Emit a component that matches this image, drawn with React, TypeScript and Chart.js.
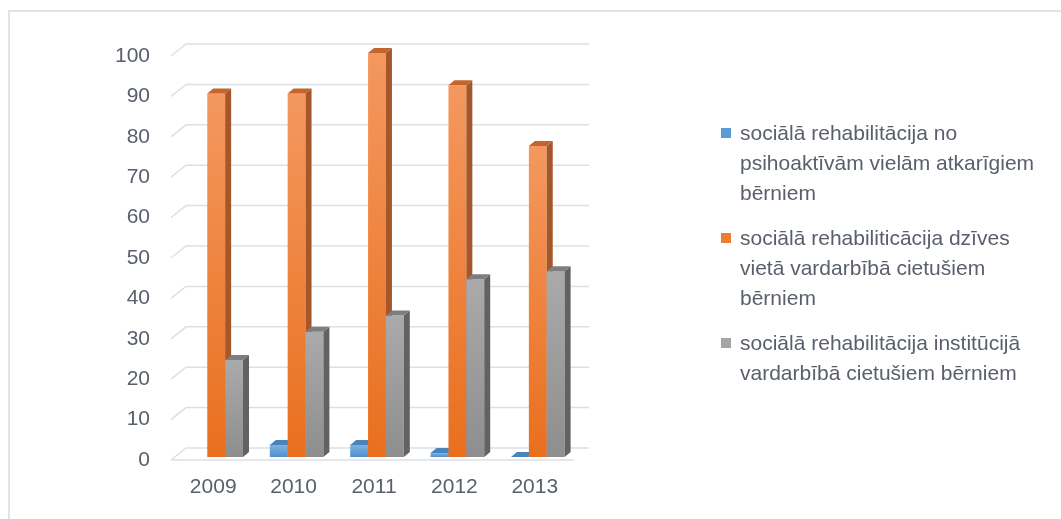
import React, { useEffect, useRef } from 'react';
import { Chart, registerables } from 'chart.js';

Chart.register(...registerables);

const years = ['2009', '2010', '2011', '2012', '2013'];
const seriesNames = [
  'sociālā rehabilitācija no psihoaktīvām vielām atkarīgiem bērniem',
  'sociālā rehabiliticācija dzīves vietā vardarbībā cietušiem bērniem',
  'sociālā rehabilitācija institūcijā vardarbībā cietušiem bērniem',
];
const legendLines = [
  ['sociālā rehabilitācija no', 'psihoaktīvām vielām atkarīgiem', 'bērniem'],
  ['sociālā rehabiliticācija dzīves', 'vietā vardarbībā cietušiem', 'bērniem'],
  ['sociālā rehabilitācija institūcijā', 'vardarbībā cietušiem bērniem'],
];
const blueValues: (number | null)[] = [null, 3, 3, 1, 0];
const orangeValues = [90, 90, 100, 92, 77];
const grayValues = [24, 31, 35, 44, 46];
const yTicks = [0, 10, 20, 30, 40, 50, 60, 70, 80, 90, 100];

const textColor = '#59606c';
const legendColors = ['#5B9BD5', '#ED7D31', '#A5A5A5'];
const faceStyles = [
  { top: '#7fb3e3', bottom: '#4f8fcb', side: '#3b6e9e', cap: '#4a84bd' },
  { top: '#F4985F', bottom: '#E96F1E', side: '#A3572A', cap: '#C4652E' },
  { top: '#AAAAAA', bottom: '#8E8E8E', side: '#626262', cap: '#7E7E7E' },
];

const DX = 6;
const DY = 5;

const bars3d = {
  id: 'bars3d',
  beforeDatasetsDraw(chart: any) {
    const { ctx, chartArea: a, scales } = chart;
    const y = scales.y;
    ctx.save();
    ctx.strokeStyle = '#dce0e6';
    ctx.lineWidth = 1.5;
    for (const v of yTicks) {
      const py = y.getPixelForValue(v);
      ctx.beginPath();
      ctx.moveTo(a.left - 5, py + 3);
      ctx.lineTo(a.left + 10, py - 9);
      ctx.lineTo(a.right + 11, py - 9);
      if (v === 0) {
        ctx.moveTo(a.left - 5, py + 3);
        ctx.lineTo(a.right - 4, py + 3);
      }
      ctx.stroke();
    }
    ctx.restore();
  },
  afterDatasetsDraw(chart: any) {
    const { ctx } = chart;
    ctx.save();
    for (let i = 0; i < years.length; i++) {
      chart.data.datasets.forEach((ds: any, d: number) => {
        const v = ds.data[i];
        if (v === null || v === undefined) return;
        const el = chart.getDatasetMeta(d).data[i];
        if (!el) return;
        const { x, y, base, width } = el.getProps(['x', 'y', 'base', 'width'], true);
        const st = faceStyles[d];
        const l = x - width / 2;
        const r = x + width / 2;
        const t = Math.min(y, base);
        const b = Math.max(y, base);
        if (b - t > 0.5) {
          const g = ctx.createLinearGradient(0, t, 0, b);
          g.addColorStop(0, st.top);
          g.addColorStop(1, st.bottom);
          ctx.fillStyle = g;
          ctx.fillRect(l, t, r - l, b - t);
          ctx.fillStyle = st.side;
          ctx.beginPath();
          ctx.moveTo(r, t);
          ctx.lineTo(r + DX, t - DY);
          ctx.lineTo(r + DX, b - DY);
          ctx.lineTo(r, b);
          ctx.closePath();
          ctx.fill();
        }
        ctx.fillStyle = st.cap;
        ctx.beginPath();
        ctx.moveTo(l, t);
        ctx.lineTo(l + DX, t - DY);
        ctx.lineTo(r + DX, t - DY);
        ctx.lineTo(r, t);
        ctx.closePath();
        ctx.fill();
      });
    }
    ctx.restore();
  },
};

export default function App() {
  const ref = useRef<HTMLCanvasElement | null>(null);

  useEffect(() => {
    if (!ref.current) return;
    const chart = new Chart(ref.current, {
      type: 'bar',
      data: {
        labels: years,
        datasets: [
          { label: seriesNames[0], data: blueValues, backgroundColor: 'rgba(0,0,0,0)', borderWidth: 0 },
          { label: seriesNames[1], data: orangeValues, backgroundColor: 'rgba(0,0,0,0)', borderWidth: 0 },
          { label: seriesNames[2], data: grayValues, backgroundColor: 'rgba(0,0,0,0)', borderWidth: 0 },
        ],
      },
      options: {
        responsive: false,
        animation: false,
        events: [],
        layout: { padding: { left: 100, right: 483, top: 53, bottom: 0 } },
        datasets: { bar: { categoryPercentage: 0.667, barPercentage: 1.0 } },
        plugins: {
          legend: { display: false },
          tooltip: { enabled: false },
          title: { display: false },
        },
        scales: {
          x: {
            grid: { display: false, drawTicks: false },
            border: { display: false },
            ticks: {
              color: textColor,
              font: { family: 'Liberation Sans', size: 21 },
              padding: 18,
              labelOffset: -3,
              maxRotation: 0,
            },
            afterFit: (s: any) => {
              s.height = 62;
            },
          },
          y: {
            min: 0,
            max: 100,
            grid: { display: false, drawTicks: false },
            border: { display: false },
            ticks: {
              stepSize: 10,
              color: textColor,
              font: { family: 'Liberation Sans', size: 21 },
              padding: 26,
              labelOffset: 3,
            },
            afterFit: (s: any) => {
              s.width = 76;
            },
          },
        },
      },
      plugins: [bars3d],
    });
    return () => chart.destroy();
  }, []);

  return (
    <div style={{ position: 'fixed', left: 0, top: 0, width: 1061, height: 519, background: '#fff', overflow: 'hidden' }}>
      <div
        style={{
          position: 'absolute',
          left: 8,
          top: 10,
          right: -4,
          bottom: -4,
          borderTop: '2px solid #e0e4ea',
          borderLeft: '2px solid #e0e4ea',
        }}
      />
      <canvas ref={ref} width={1061} height={519} style={{ position: 'absolute', left: 0, top: 0 }} />
      <div
        style={{
          position: 'absolute',
          left: 721,
          top: 118,
          fontFamily: 'Liberation Sans',
          fontSize: 21,
          lineHeight: '30px',
          color: textColor,
          whiteSpace: 'nowrap',
        }}
      >
        {legendLines.map((lines, k) => (
          <div key={k} style={{ position: 'relative', paddingLeft: 19, marginBottom: 15 }}>
            <span
              style={{
                position: 'absolute',
                left: 0,
                top: 10,
                width: 10,
                height: 10,
                background: legendColors[k],
              }}
            />
            {lines.map((ln, j) => (
              <div key={j}>{ln}</div>
            ))}
          </div>
        ))}
      </div>
    </div>
  );
}
